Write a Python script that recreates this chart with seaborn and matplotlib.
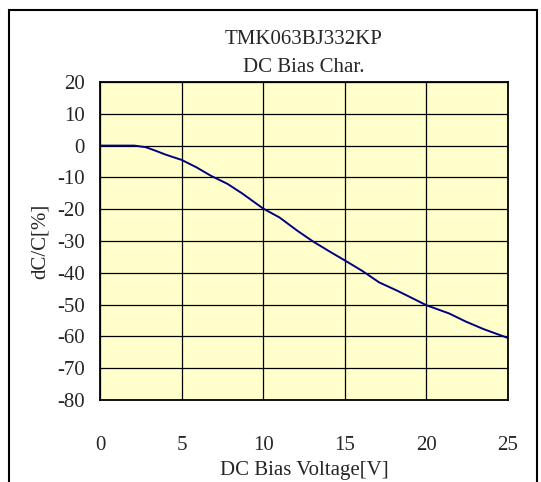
import numpy as np
import pandas as pd
import matplotlib
matplotlib.use('Agg')
import matplotlib.pyplot as plt
import seaborn as sns

# values
voltage = [0, 1.0, 2.1, 2.8, 3.4, 4.0, 5.0, 5.9, 6.8, 7.8, 8.7, 10.0, 11.0,
           12.1, 13.1, 14.2, 15.0, 16.1, 17.1, 18.2, 19.3, 20.0, 21.4, 22.4,
           23.5, 25.0]
dcc = [0, 0, 0, -0.5, -1.6, -2.8, -4.5, -6.8, -9.5, -12.0, -15.0, -19.8, -22.6,
       -26.8, -30.3, -33.7, -36.1, -39.5, -43.0, -45.6, -48.4, -50.2, -52.8,
       -55.3, -57.7, -60.5]
x_ticks = [0, 5, 10, 15, 20, 25]
y_ticks = [20, 10, 0, -10, -20, -30, -40, -50, -60, -70, -80]

df = pd.DataFrame({'V': voltage, 'dC': dcc})

sns.set_style('white')
plt.rcParams['font.family'] = ['Liberation Serif', 'DejaVu Serif']
plt.rcParams['axes.unicode_minus'] = False

fig = plt.figure(figsize=(5.41, 4.82), dpi=100)
ax = fig.add_axes([100 / 541, 1 - 400 / 482, 408 / 541, 318 / 482])
ax.set_facecolor('#FFFFCC')

sns.lineplot(data=df, x='V', y='dC', ax=ax, color='#000080', linewidth=1.4)

ax.set_xlim(0, 25)
ax.set_ylim(-80, 20)
ax.set_xticks(x_ticks)
ax.set_yticks(y_ticks)
ax.grid(True, color='black', linewidth=0.9)
ax.tick_params(axis='both', labelsize=15, length=0)
ax.tick_params(axis='x', pad=26)
ax.tick_params(axis='y', pad=11)
for s in ax.spines.values():
    s.set_color('black')
    s.set_linewidth(1.3)

ax.set_xlabel('DC Bias Voltage[V]', fontsize=15, labelpad=4)
ax.set_ylabel('dC/C[%]', fontsize=15, labelpad=5)

fig.text(304 / 541, 1 - 39 / 482, 'TMK063BJ332KP', ha='center', va='center', fontsize=15)
fig.text(304 / 541, 1 - 68 / 482, 'DC Bias Char.', ha='center', va='center', fontsize=15)

# outer frame (bottom edge runs off the image)
fig.add_artist(plt.Rectangle((8.5 / 541, -0.1), 528 / 541, 1.1 - 9.5 / 482,
                             transform=fig.transFigure, fill=False,
                             edgecolor='black', linewidth=1.5))

fig.savefig('out.png', dpi=100)
